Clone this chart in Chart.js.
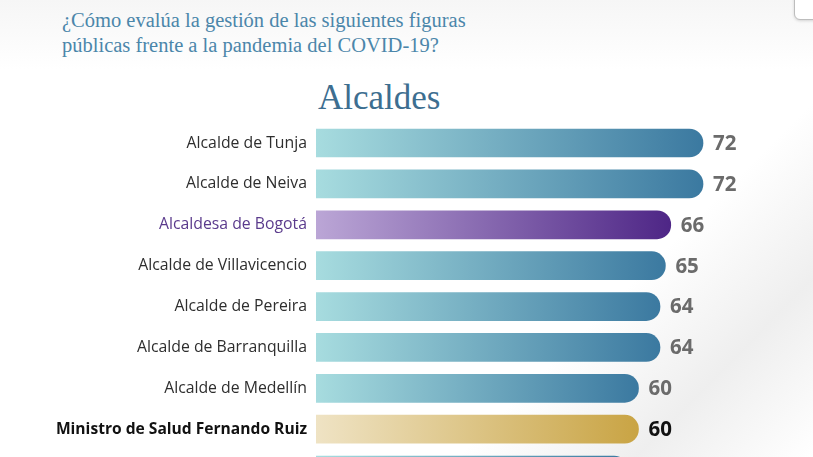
<!DOCTYPE html>
<html><head><meta charset="utf-8">
<script src="https://cdn.jsdelivr.net/npm/chart.js@4.4.1/dist/chart.umd.min.js"></script>
<style>
html,body{margin:0;padding:0;width:813px;height:457px;overflow:hidden;background:#fff;}
#wrap{position:relative;width:813px;height:457px;overflow:hidden;
 background:linear-gradient(180deg,#f6f6f6 0px,#ffffff 70px);}
#shade{position:absolute;left:0;top:0;width:813px;height:457px;
 background:linear-gradient(135deg,rgba(255,255,255,0) 72%,rgba(225,225,225,0.55) 86%,rgba(255,255,255,0.2) 100%);}
#title{position:absolute;left:62px;top:8px;font-family:"Liberation Serif","DejaVu Serif",serif;font-size:20.5px;line-height:25px;color:#4b86aa;}
#sub{position:absolute;left:318px;top:78px;font-family:"Liberation Serif","DejaVu Serif",serif;font-size:35px;color:#3d6e90;}
#corner{position:absolute;left:794px;top:-12px;width:40px;height:30px;border:1px solid #bdbdbd;border-radius:6px;background:#fff;box-shadow:0 1px 3px rgba(0,0,0,0.15);}
canvas{position:absolute;left:0;top:0;}
</style></head>
<body><div id="wrap">
<div id="shade"></div>
<div id="title">¿Cómo evalúa la gestión de las siguientes figuras<br>públicas frente a la pandemia del COVID-19?</div>
<div id="sub">Alcaldes</div>
<div id="corner"></div>
<canvas id="c" width="813" height="509" style="width:813px;height:509px"></canvas>
</div>
<script>
const categories = ["Alcalde de Tunja","Alcalde de Neiva","Alcaldesa de Bogotá","Alcalde de Villavicencio","Alcalde de Pereira","Alcalde de Barranquilla","Alcalde de Medellín","Ministro de Salud Fernando Ruiz",""];
const values = [72,72,66,65,64,64,60,60,58];
const valueLabels = ["72","72","66","65","64","64","60","60",""];
const barKinds = ["alc","alc","bog","alc","alc","alc","alc","min","alc"];

const gradStops = {
  alc:["#a7dcdf","#3b79a0"],
  bog:["#bba6d6","#4e2686"],
  min:["#efe3c4","#c9a444"]
};
const labelColors = {alc:"#2e2e2e",bog:"#5a3a8c",min:"#111"};
const valueColors = {alc:"#6b6b6b",bog:"#6b6b6b",min:"#111"};

const valuePlugin = {
  id:'vals',
  afterDatasetsDraw(chart){
    const ctx = chart.ctx;
    const meta = chart.getDatasetMeta(0);
    ctx.save();
    ctx.font = "bold 20.5px 'Noto Sans', 'Open Sans', sans-serif";
    ctx.textBaseline = "middle";
    ctx.textAlign = "left";
    meta.data.forEach((bar,i)=>{
      ctx.fillStyle = valueColors[barKinds[i]];
      ctx.fillText(valueLabels[i], bar.x + 10, bar.y + 1);
    });
    ctx.restore();
  }
};

new Chart(document.getElementById('c'),{
  type:'bar',
  data:{labels:categories,datasets:[{
    data:values,
    barThickness:28,
    borderRadius:14,
    borderSkipped:'start',
    backgroundColor(ctx){
      const chart = ctx.chart;
      const area = chart.chartArea;
      if(!area) return "#5a9ab5";
      const xs = chart.scales.x;
      const x1 = xs.getPixelForValue(ctx.raw);
      const g = chart.ctx.createLinearGradient(area.left,0,x1,0);
      const s = gradStops[barKinds[ctx.dataIndex]];
      g.addColorStop(0,s[0]); g.addColorStop(1,s[1]);
      return g;
    }
  }]},
  options:{
    indexAxis:'y',
    responsive:false,
    animation:false,
    events:[],
    layout:{padding:{top:122.6,right:67,left:0,bottom:0}},
    plugins:{legend:{display:false},tooltip:{enabled:false}},
    scales:{
      x:{display:false,min:0,max:80},
      y:{
        grid:{display:false,drawTicks:false},border:{display:false},
        afterFit(s){s.width=316;},
        ticks:{
          padding:9,
          color(c){return labelColors[barKinds[c.index]];},
          font(c){return barKinds[c.index]==="min"
            ? {family:"'Open Sans', 'Noto Sans', sans-serif",size:15.6,weight:"bold"}
            : {family:"'Open Sans', 'Noto Sans', sans-serif",size:15.8,weight:"normal"};}
        }
      }
    }
  },
  plugins:[valuePlugin]
});
</script>
</body></html>
